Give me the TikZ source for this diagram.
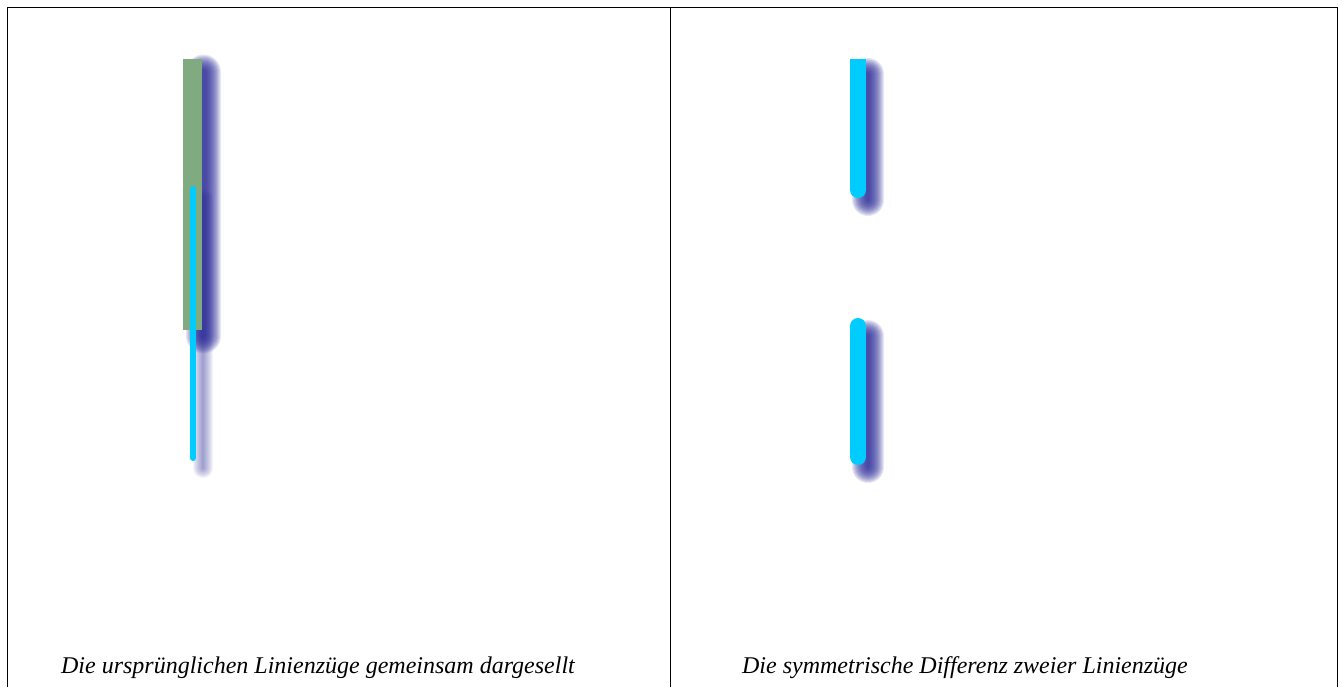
\documentclass[tikz,border=0pt]{standalone}
\usepackage{fontspec}
\setmainfont{Liberation Serif}
\usepackage{tikz}
\usetikzlibrary{positioning}
\definecolor{linecyan}{RGB}{0,204,255}
\definecolor{shadowblue}{RGB}{40,40,150}
\definecolor{polygreen}{RGB}{128,170,128}

\begin{document}
\begin{tikzpicture}[x=0.5pt, y=-0.5pt,
  frame/.style={draw=black, line width=0.5pt},
  caption/.style={font=\fontsize{12}{14}\selectfont\itshape, anchor=base, inner sep=0pt},
  cyanline/.style={draw=linecyan, line cap=round},
  shadowline/.style={draw=shadowblue, line cap=round}
]
\useasboundingbox (0,0) rectangle (1342,687);

% Panel frames
\draw[frame] (7,687) -- (7,7) -- (1337,7) -- (1337,687);
\draw[frame] (670,7) -- (670,687);

% Left panel: blurred shadows
\foreach \k in {1,...,16}{
  \draw[shadowline, line width=1.5pt+\k*1pt, opacity=0.11] (203.5,72) -- (203.5,336);
}
\foreach \k in {1,...,10}{
  \draw[shadowline, line width=\k*1pt, opacity=0.055] (203,199) -- (203,468);
}

% Left panel: original polylines
\draw[draw=polygreen, line width=9.5pt] (192.5,59) -- (192.5,330);
\draw[cyanline, line width=3pt] (193,189) -- (193,458);

% Right panel: blurred shadows
\foreach \k in {1,...,16}{
  \draw[shadowline, line width=\k*1pt, opacity=0.11] (868,74) -- (868,200);
  \draw[shadowline, line width=\k*1pt, opacity=0.11] (868,336) -- (868,467);
}

% Right panel: symmetric difference
\begin{scope}
  \clip (671,59) rectangle (1336,687);
  \draw[cyanline, line width=8pt] (858,40) -- (858,190);
\end{scope}
\draw[cyanline, line width=8pt] (858,326) -- (858,457);

% Captions
\node[caption] (leftcap) at (318,673) {Die ursprünglichen Linienzüge gemeinsam dargesellt};
\node[caption] (rightcap) at (965,673) {Die symmetrische Differenz zweier Linienzüge};
\end{tikzpicture}
\end{document}
